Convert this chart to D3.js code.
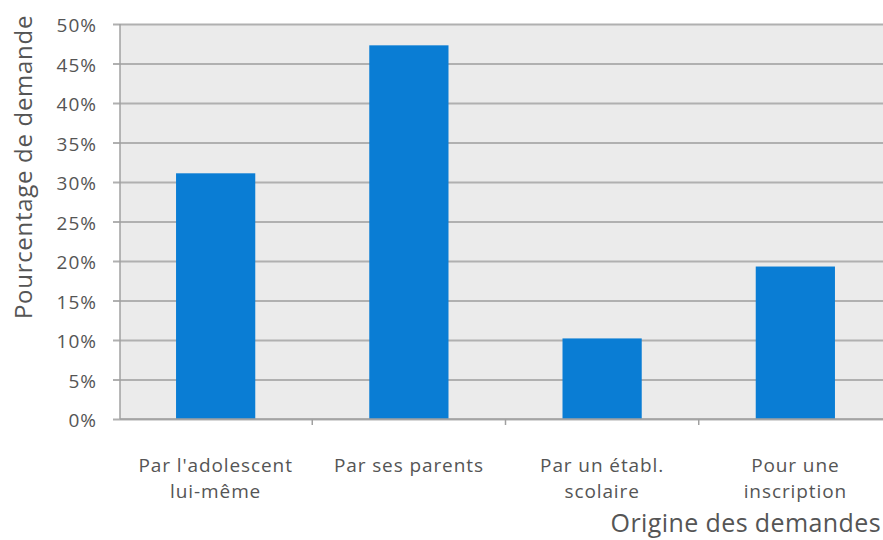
<!DOCTYPE html>
<html>
<head>
<meta charset="utf-8">
<script src="https://cdn.jsdelivr.net/npm/d3@7"></script>
<style>
  body { margin: 0; background: #fff; }
  text { font-family: "Open Sans", sans-serif; fill: #555; }
</style>
</head>
<body>
<div id="chart"></div>
<script>
// Data
const categories = [["Par l'adolescent", "lui-même"], ["Par ses parents"], ["Par un établ.", "scolaire"], ["Pour une", "inscription"]];
const values = [31.1, 47.3, 10.2, 19.3];
const yTicks = [0, 5, 10, 15, 20, 25, 30, 35, 40, 45, 50];

const W = 883, H = 540;
const margin = { top: 24, right: -8, bottom: 121, left: 120 };
const width = W - margin.left - margin.right;
const height = H - margin.top - margin.bottom;

const svg = d3.select('#chart').append('svg')
    .attr('width', W).attr('height', H);

const g = svg.append('g')
    .attr('transform', `translate(${margin.left}, ${margin.top})`);

const x = d3.scaleBand()
    .domain(d3.range(categories.length))
    .range([0, width])
    .paddingInner(0.59).paddingOuter(0.29);

const y = d3.scaleLinear().domain([0, 50]).range([height, 0]);

// plot background
g.append('rect')
    .attr('width', width).attr('height', height)
    .attr('fill', '#ebebeb');

// gridlines with small ticks on the left
g.append('g')
    .attr('transform', 'translate(-7,0)')
    .call(d3.axisLeft(y).tickValues(yTicks).tickSize(-width - 7).tickFormat(''))
    .call(s => s.select('.domain').remove())
    .selectAll('line')
    .attr('stroke', '#b0b0b0').attr('stroke-width', 2);

// y axis line and labels
g.append('line')
    .attr('x1', 0).attr('x2', 0).attr('y1', 0).attr('y2', height)
    .attr('stroke', '#a0a0a0').attr('stroke-width', 1.5);

g.append('g')
    .selectAll('text')
    .data(yTicks)
    .enter().append('text')
    .attr('x', -23)
    .attr('y', d => y(d) + 8)
    .attr('text-anchor', 'end')
    .style('font-size', '19px')
    .style('letter-spacing', '1px')
    .text(d => d + '%');

// bars
g.append('g')
    .selectAll('rect')
    .data(values)
    .enter().append('rect')
    .attr('x', (d, i) => x(i))
    .attr('y', d => y(d))
    .attr('width', x.bandwidth())
    .attr('height', d => height - y(d))
    .attr('fill', '#0a7dd4');

// x axis baseline and category ticks
g.append('line')
    .attr('x1', 0).attr('x2', width).attr('y1', height).attr('y2', height)
    .attr('stroke', '#a0a0a0').attr('stroke-width', 1.5);

const step = x.step();
g.append('g')
    .selectAll('line')
    .data(d3.range(1, categories.length))
    .enter().append('line')
    .attr('x1', i => x(i) - x.paddingInner() * step / 2)
    .attr('x2', i => x(i) - x.paddingInner() * step / 2)
    .attr('y1', height).attr('y2', height + 6)
    .attr('stroke', '#a0a0a0').attr('stroke-width', 1.5);

// category labels
categories.forEach((lines, i) => {
    const t = g.append('text')
        .attr('text-anchor', 'middle')
        .attr('x', x(i) + x.bandwidth() / 2)
        .attr('y', height + 53)
        .style('font-size', '19px')
        .style('letter-spacing', '0.9px');
    lines.forEach((l, j) => {
        t.append('tspan')
            .attr('x', x(i) + x.bandwidth() / 2)
            .attr('dy', j === 0 ? 0 : 26)
            .text(l);
    });
});

// axis titles
svg.append('text')
    .attr('x', 881).attr('y', 532)
    .attr('text-anchor', 'end')
    .style('font-size', '25px')
    .style('letter-spacing', '0.4px')
    .text('Origine des demandes');

svg.append('text')
    .attr('transform', 'translate(32,167) rotate(-90)')
    .attr('text-anchor', 'middle')
    .style('font-size', '24px')
    .style('letter-spacing', '0.7px')
    .text('Pourcentage de demande');
</script>
</body>
</html>
